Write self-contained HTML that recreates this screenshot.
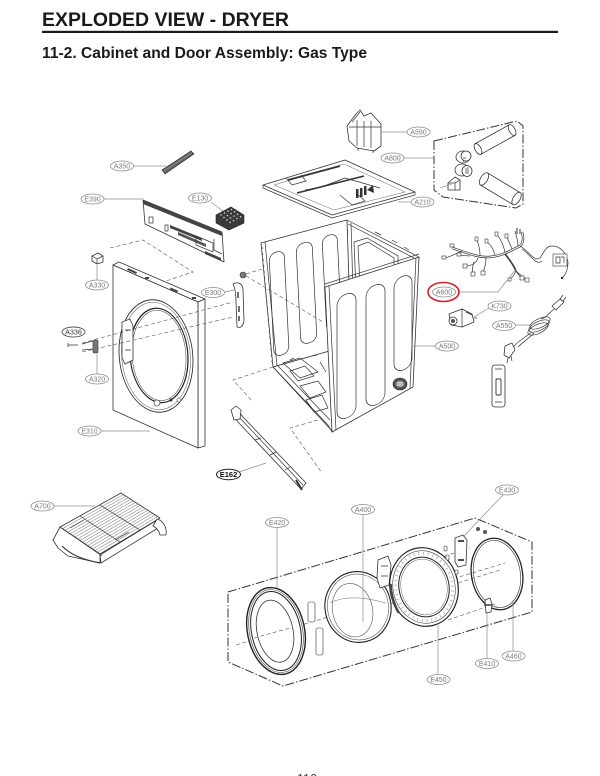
<!DOCTYPE html>
<html><head><meta charset="utf-8">
<style>
html,body{margin:0;padding:0;background:#fff;}
svg{display:block;}
.lb ellipse{fill:#fff;stroke:#8c8c8c;stroke-width:.8}
.lb text{font-family:"Liberation Sans",sans-serif;font-size:7px;fill:#7a7a7a;text-anchor:middle}
.ld{stroke:#8c8c8c;stroke-width:.7;fill:none}
.p{fill:#fff;stroke:#333;stroke-width:.8;stroke-linejoin:round}
.t{fill:none;stroke:#333;stroke-width:.7}
.g{fill:none;stroke:#666;stroke-width:.5}
.d{fill:none;stroke:#555;stroke-width:.6;stroke-dasharray:4 2.5}
.dd{fill:none;stroke:#333;stroke-width:1;stroke-dasharray:9 2 1.5 2}
.c{fill:#fff;stroke:#333;stroke-width:.6}
</style></head><body>
<svg width="600" height="776" viewBox="0 0 600 776" xmlns="http://www.w3.org/2000/svg">
<rect width="600" height="776" fill="#fff"/>

<!-- Header -->
<text x="42" y="26" font-family="Liberation Sans, sans-serif" font-weight="bold" font-size="19.5" fill="#1a1a1a" textLength="247" lengthAdjust="spacingAndGlyphs">EXPLODED VIEW - DRYER</text>
<rect x="42" y="30.8" width="516" height="2.2" fill="#1a1a1a"/>
<text x="42" y="58" font-family="Liberation Sans, sans-serif" font-weight="bold" font-size="15.5" fill="#1a1a1a" textLength="325" lengthAdjust="spacingAndGlyphs">11-2. Cabinet and Door Assembly: Gas Type</text>

<!-- ===== A350 bar ===== -->
<line class="ld" x1="134" y1="166" x2="166" y2="166"/>
<polygon points="162,170 191,151 194,154 165,174" fill="#666" stroke="#222" stroke-width=".6"/>
<path d="M164,171 L192,152.5" stroke="#ccc" stroke-width=".6" stroke-dasharray="1 1"/>

<!-- ===== E390 panel ===== -->
<line class="ld" x1="104" y1="199" x2="143" y2="199"/>
<polygon class="p" points="143,200 222,232 224,262 145,224"/>
<polygon points="143,200 222,232 222,236 143,204" fill="#444"/>
<polygon points="170,225 202,238 202,241 170,228" fill="#444"/>
<polygon points="178,232 206,244 206,247 178,235" fill="#555"/>
<polygon points="196,236 213,243 213,252 196,245" class="t"/>
<polygon points="205,251 221,258 221,261 205,254" fill="#444"/>
<rect x="149" y="217" width="4" height="6" class="t"/>
<rect x="165" y="225" width="3" height="6" class="t"/>
<path class="t" d="M214,239 L214,250 L222,254"/>

<!-- ===== E130 block ===== -->
<line class="ld" x1="211" y1="202" x2="224" y2="212"/>
<polygon points="216,215 231,207 244,215 244,223 229,230 216,223" fill="#3a3a3a" stroke="#222" stroke-width=".6"/>
<g fill="#d8d8d8">
<circle cx="221" cy="215" r=".8"/><circle cx="224.5" cy="213" r=".8"/><circle cx="228" cy="211" r=".8"/><circle cx="231.5" cy="209.5" r=".8"/>
<circle cx="224" cy="217.5" r=".8"/><circle cx="227.5" cy="215.5" r=".8"/><circle cx="231" cy="213.5" r=".8"/><circle cx="234.5" cy="211.8" r=".8"/>
<circle cx="227" cy="220" r=".8"/><circle cx="230.5" cy="218" r=".8"/><circle cx="234" cy="216" r=".8"/><circle cx="237.5" cy="214.3" r=".8"/>
<circle cx="230" cy="222.5" r=".8"/><circle cx="233.5" cy="220.5" r=".8"/><circle cx="237" cy="218.5" r=".8"/><circle cx="240.5" cy="216.8" r=".8"/>
</g>

<!-- ===== A590 ===== -->
<line class="ld" x1="382" y1="132" x2="407" y2="132"/>
<path class="p" d="M347,126 L356,114 L360,110 L364,116 L371,113 L381,124 L381,146 L374,151 L357,148 L349,141 Z"/>
<path class="t" d="M357,120 V146 M364,121 V147 M371,121 V148 M349,127 L381,127 M352,122 L360,112"/>
<path class="t" d="M358,148 v3 M373,150 v3"/>

<!-- ===== A800 vent ===== -->
<line class="ld" x1="404" y1="158" x2="434" y2="158"/>
<polygon class="dd" points="434,141 517,121 523,126 523,204 516,208 443,197 434,190"/>
<g transform="translate(478,149) rotate(-29)">
<rect x="0" y="-6" width="39" height="12" class="p"/>
<ellipse cx="39" cy="0" rx="3" ry="6" class="p"/>
<ellipse cx="0" cy="0" rx="3" ry="6" class="p"/>
</g>
<g transform="translate(484,179) rotate(31)">
<rect x="0" y="-7" width="38" height="14" class="p"/>
<ellipse cx="38" cy="0" rx="3.5" ry="7" class="p"/>
<ellipse cx="0" cy="0" rx="3.5" ry="7" class="p"/>
</g>
<ellipse cx="463" cy="157" rx="7" ry="6" class="p"/>
<ellipse cx="466" cy="156" rx="5" ry="5" class="p"/>
<path class="t" d="M463,158 h3 M463,161 h3"/>
<ellipse cx="462" cy="170" rx="7" ry="6" class="p"/>
<ellipse cx="467" cy="171" rx="5" ry="5.5" class="p"/>
<path class="t" d="M466,168 v6 M468,167 v7"/>
<path class="p" d="M448,183 L455,177 L460,180 L460,190 L448,190 Z"/>
<path class="t" d="M448,183 L455,183 L460,180 M455,183 V190"/>
<line x1="440" y1="188" x2="452" y2="184" class="g"/>

<!-- ===== A210 top plate ===== -->
<polygon class="p" points="263,185 345,160 415,192 332,215"/>
<polyline class="t" points="263,185 263,188 332,218 415,195 415,192"/>
<polygon class="g" points="274,185 344,164 405,192 334,210"/>
<path d="M288,180 L340,166" stroke="#333" stroke-width="1.8"/>
<path d="M297,193 L364,176" stroke="#333" stroke-width="1.6"/>
<path class="t" d="M286,178 L292,185 L306,181 L301,175 M340,195 L352,205 L365,201 L356,193"/>
<path class="t" d="M305,190 C320,188 330,184 345,178 L380,188"/>
<g fill="#333"><rect x="356" y="189" width="2.5" height="9"/><rect x="360" y="188" width="2.5" height="9"/><rect x="364" y="186" width="2.5" height="9"/><polygon points="367,190 373,185 374,193"/></g>
<line class="ld" x1="398" y1="202" x2="411" y2="202"/>

<!-- ===== Cabinet A500 ===== -->
<polyline class="t" points="347,220 419,257"/>
<polyline class="t" points="348,224 416,259"/>
<line class="t" x1="347" y1="220" x2="349" y2="292"/>
<line class="t" x1="351" y1="223" x2="353" y2="292"/>
<path class="t" d="M354,242 L367,238 L398,256 L398,280 L356,290 Z"/>
<path class="t" d="M358,246 L368,242 L394,258 L394,276 L360,285 Z"/>
<path class="t" d="M375,232 l6,3 M392,240 l5,3 M404,247 l5,3"/>
<polygon class="p" points="261,243 347,220 351,345 273,367"/>
<line class="t" x1="265" y1="242" x2="277" y2="366"/>
<path d="M262,247 L272,362" stroke="#555" stroke-width="1" stroke-dasharray="2 4"/>
<g class="t">
<rect x="0" y="0" width="15" height="103" rx="7" transform="matrix(1,-0.27,0.05,1,269,254)"/>
<rect x="0" y="0" width="16" height="100" rx="7" transform="matrix(1,-0.27,0.05,1,296,245)"/>
<rect x="0" y="0" width="15" height="95" rx="7" transform="matrix(1,-0.27,0.05,1,322,237)"/>
</g>
<polygon class="p" points="273,367 326,352 352,345 333,432"/>
<polyline class="t" points="273,367 328,425 332,432"/>
<polyline class="t" points="278,366 330,420"/>
<path class="t" d="M283,363 L300,358 L318,372 L300,378 Z M290,371 L305,366 L314,376 L298,381 Z"/>
<path class="t" d="M300,386 L318,381 L326,392 L310,398 Z M306,400 L322,395 L328,408 L314,412 Z"/>
<path class="t" d="M290,360 l4,-2 M312,356 l5,-1 M320,362 l6,10"/>
<circle cx="243" cy="275" r="3" fill="#777" stroke="#333" stroke-width=".6"/>
<line class="d" x1="246" y1="274" x2="262" y2="269"/>
<line class="d" x1="246" y1="276" x2="323" y2="322"/>
<polygon class="p" points="325,287 419,257 413,387 332,432"/>
<line class="t" x1="329" y1="286" x2="336" y2="430"/>
<line class="t" x1="325" y1="284" x2="419" y2="254"/>
<line class="t" x1="416" y1="258" x2="410" y2="388"/>
<g class="t">
<rect x="0" y="0" width="19" height="124" rx="9" transform="matrix(1,-0.32,0,1,337,297)"/>
<rect x="0" y="0" width="19" height="120" rx="9" transform="matrix(1,-0.32,0,1,366,288)"/>
<rect x="0" y="0" width="18" height="94" rx="9" transform="matrix(1,-0.32,0,1,394,279)"/>
</g>
<ellipse cx="400" cy="384" rx="7" ry="6" fill="#555" stroke="#222" stroke-width=".6"/>
<ellipse cx="400" cy="384" rx="4" ry="3" fill="#bbb"/>
<line class="ld" x1="413" y1="346" x2="435" y2="346"/>

<polyline class="d" points="273,367 233,380 253,402"/>
<polyline class="d" points="318,420 290,428 322,473"/>

<!-- ===== E162 bracket ===== -->
<polygon class="p" points="233,414 238,410 243,417 306,483 301,489 238,422"/>
<line class="t" x1="238" y1="416" x2="303" y2="485"/>
<path class="p" d="M231,410 L236,406 L241,410 L240,419 L234,420 Z"/>
<path class="t" d="M255,440 l6,-2 M270,455 l6,-3 M285,470 l5,-3"/>
<path d="M296,480 L302,490" stroke="#333" stroke-width="2"/>
<line class="ld" x1="239" y1="472" x2="266" y2="463"/>

<polyline class="d" points="110,248 143,240 193,272 163,282"/>

<!-- ===== Front panel E310 ===== -->
<polygon class="p" points="113,265 119,262 205,299 198,302"/>
<polygon class="p" points="198,302 205,299 205,446 198,448"/>
<polygon class="p" points="113,265 198,302 198,448 113,410"/>
<g fill="#444"><rect x="127" y="270" width="10" height="2" transform="rotate(24 132 271)"/><rect x="145" y="277" width="4" height="2"/><rect x="170" y="289" width="8" height="2" transform="rotate(24 174 290)"/><rect x="192" y="297" width="4" height="2"/></g>
<g transform="translate(156,356) matrix(1,0.14,0,1,0,0)">
<ellipse rx="37" ry="56" fill="#fff" stroke="#333" stroke-width=".9"/>
<ellipse rx="34.5" ry="53.5" fill="none" stroke="#555" stroke-width=".5"/>
<ellipse cx="3" cy="-1" rx="29" ry="47" fill="none" stroke="#222" stroke-width="1.2"/>
<ellipse cx="3" cy="-1" rx="27" ry="45" fill="none" stroke="#555" stroke-width=".6"/>
</g>
<path class="p" d="M122,322 L130,319 L133,326 L133,360 L125,364 L122,358 Z"/>
<path class="t" d="M125,330 h6 M125,350 h6"/>
<circle cx="157" cy="403" r="3" class="c"/><circle cx="171" cy="400" r="1.5" fill="#333"/><circle cx="179" cy="400" r="2" class="c"/>
<line class="ld" x1="101" y1="431" x2="150" y2="431"/>

<line class="d" x1="82" y1="343" x2="233" y2="302"/>
<line class="d" x1="82" y1="352" x2="233" y2="317"/>
<path class="t" d="M68,345 L78,345 M68,343 v4"/>
<rect x="93" y="340" width="5" height="13" rx="1.5" fill="#777" stroke="#333" stroke-width=".6"/>
<path class="t" d="M82,344 L93,341 M82,350 L93,349"/>
<line class="ld" x1="97" y1="354" x2="97" y2="374"/>

<polygon class="p" points="92,256 98,253 103,256 103,262 97,264 92,261"/>
<path class="t" d="M92,256 L97,259 L103,256 M97,259 V264"/>
<line class="ld" x1="97" y1="265" x2="97" y2="280"/>

<path class="p" d="M233,284 C238,281 243,284 243,290 L244,321 C243,327 240,328 237,327 L236,302 C236,293 235,288 233,284 Z"/>
<path d="M238,292 v6 M239,306 v6 M239,316 v5" stroke="#333" stroke-width="1.4"/>
<line class="ld" x1="225" y1="292" x2="234" y2="290"/>

<!-- ===== A600 harness ===== -->
<path d="M452,248 C465,252 478,258 490,257 C502,256 512,250 520,246 C523,244 524,238 522,232" fill="none" stroke="#333" stroke-width="2.4"/>
<path d="M452,248 C465,252 478,258 490,257 C502,256 512,250 520,246 C523,244 524,238 522,232" fill="none" stroke="#fff" stroke-width="1"/>
<path d="M505,254 C510,260 514,266 516,271" fill="none" stroke="#333" stroke-width="1.6"/>
<g class="t">
<path d="M520,246 C530,252 534,262 540,258 C544,252 546,246 552,246 C560,246 566,252 568,262 C568,270 565,276 562,278"/>
<path d="M522,249 C532,256 536,266 542,261"/>
<path d="M478,258 C476,264 470,266 466,266"/>
<path d="M486,257 C486,266 484,270 483,272"/>
<path d="M470,256 C466,256 462,255 459,255"/>
<path d="M462,251 C455,254 450,257 445,258"/>
<path d="M480,255 C480,248 478,243 477,240"/>
<path d="M495,255 C493,248 490,244 487,242"/>
<path d="M505,252 C503,244 500,238 497,235"/>
<path d="M512,249 C510,244 508,240 507,237"/>
<path d="M518,246 C518,240 516,235 515,231"/>
<path d="M516,271 C518,274 520,277 522,278"/>
<path d="M516,271 C522,276 525,279 527,280"/>
<path d="M516,271 C514,275 512,278 510,279"/>
<path d="M474,262 C472,268 472,272 473,274"/>
</g>
<g class="c">
<rect x="442" y="256" width="4" height="3"/><rect x="450" y="244" width="4" height="3"/><rect x="457" y="253" width="4" height="3"/>
<rect x="463" y="264" width="4" height="4"/><rect x="471" y="272" width="4" height="4"/><rect x="481" y="271" width="4" height="4"/>
<rect x="475" y="237" width="3" height="4"/><rect x="485" y="239" width="3" height="4"/><rect x="495" y="232" width="3" height="4"/>
<rect x="505" y="234" width="3" height="4"/><rect x="520" y="276" width="4" height="4"/><rect x="525" y="278" width="4" height="4"/><rect x="508" y="278" width="3" height="3"/>
</g>
<path d="M517,228 v6 M520,229 v5" stroke="#333" stroke-width="1"/>
<rect x="553" y="254" width="14" height="12" class="c"/>
<path class="t" d="M556,257 h4 v6 h-4 Z M561,257 h3 v6"/>
<circle cx="562" cy="278" r="1.2" fill="#333"/>
<polyline class="ld" points="459,292 498,292 516,269"/>
<ellipse cx="443.5" cy="292" rx="15.5" ry="9.5" fill="none" stroke="#d61f26" stroke-width="1.6"/>

<!-- K730 -->
<polygon class="p" points="449,314 462,309 472,314 474,322 462,327 451,325"/>
<circle cx="453" cy="321" r="4" class="p"/>
<circle cx="453" cy="321" r="2" fill="#555"/>
<path class="t" d="M462,309 V327 M466,312 l6,3 M474,318 l3,0"/>
<line class="ld" x1="474" y1="317" x2="489" y2="308"/>

<!-- A550 cord -->
<polygon class="p" points="552,306 560,299 564,302 556,310"/>
<path class="t" d="M560,299 l3,-4 M563,301 l3,-4"/>
<path class="t" d="M554,309 C548,314 546,318 541,319"/>
<g class="t">
<ellipse cx="540" cy="323" rx="11" ry="4.5" transform="rotate(-25 540 323)"/>
<ellipse cx="539" cy="326" rx="11" ry="4.5" transform="rotate(-25 539 326)"/>
<ellipse cx="538" cy="329" rx="11" ry="4.5" transform="rotate(-25 538 329)"/>
</g>
<path class="t" d="M532,332 C525,337 519,341 515,345 C512,350 510,354 508,357"/>
<path class="t" d="M534,333 C528,339 522,343 518,347"/>
<polygon class="p" points="505,346 512,343 515,350 509,358 504,355"/>
<path class="t" d="M508,358 l-1,5 M511,356 l1,5"/>
<line class="ld" x1="516" y1="325" x2="530" y2="325"/>

<!-- strike plate -->
<rect x="492" y="365" width="13" height="42" rx="3" class="p"/>
<rect x="496" y="379" width="5" height="16" rx="1" fill="none" stroke="#333" stroke-width=".9"/>
<path class="t" d="M495,369 h7 M495,402 h7"/>

<!-- ===== A700 rack ===== -->
<line class="ld" x1="54" y1="506" x2="95" y2="506"/>
<polygon class="p" points="100,555 157,520 158,528 101,563"/>
<path class="p" d="M60,527 L53,540 L58,548 L68,556 L100,563 L100,554 Z"/>
<path d="M62,546 C72,556 85,560 100,563" fill="none" stroke="#333" stroke-width="1.2"/>
<polygon class="p" points="60,527 121,493 160,518 100,554"/>
<path class="g" d="M62.5,528.7L123.4,494.6 M65,530.4L125.9,496.1 M67.5,532.1L128.3,497.7 M70,533.8L130.8,499.3 M72.5,535.4L133.2,500.8 M75,537.1L135.6,502.4 M77.5,538.8L138.1,503.9 M80,540.5L140.5,505.5 M82.5,542.2L142.9,507.1 M85,543.9L145.4,508.6 M87.5,545.6L147.8,510.2 M90,547.3L150.3,511.8 M92.5,548.9L152.7,513.3 M95,550.6L155.1,514.9 M97.5,552.3L157.6,516.4"/>
<path class="t" d="M80,516 L120,542 M100,505 L140,530 M63,529 L102,556"/>
<path class="p" d="M157,519 C164,521 167,528 166,535 L160,535 C159,531 157,528 153,526 Z"/>
<path class="t" d="M70,528 l14,-8 M115,540 l14,-8"/>

<!-- ===== Door assembly box ===== -->
<polygon class="dd" points="228,592 475,518 532,542 532,612 283,686 228,662"/>
<line class="d" x1="236" y1="645" x2="505" y2="563"/>
<line class="d" x1="376" y1="578" x2="470" y2="548"/>
<line class="d" x1="390" y1="604" x2="500" y2="570"/>
<line class="d" x1="448" y1="620" x2="495" y2="604"/>

<!-- E420 -->
<g transform="translate(276,631) rotate(-12)">
<ellipse rx="28.5" ry="44" fill="#fff" stroke="#222" stroke-width="1.4"/>
<ellipse rx="26.5" ry="42" fill="none" stroke="#555" stroke-width=".7"/>
<ellipse rx="24.5" ry="40" fill="none" stroke="#222" stroke-width="1"/>
<ellipse cx="-1" rx="18" ry="31.5" fill="none" stroke="#333" stroke-width=".8"/>
</g>
<line class="d" x1="254" y1="638" x2="290" y2="628"/>
<rect x="308" y="602" width="7" height="20" rx="2" class="c"/>
<rect x="316" y="628" width="7" height="27" rx="2" class="c"/>

<!-- A400 glass -->
<g transform="translate(358,607) rotate(-12)">
<ellipse rx="33" ry="35.5" fill="#fff" stroke="#222" stroke-width="1.1"/>
<ellipse rx="30.5" ry="33" fill="none" stroke="#555" stroke-width=".6"/>
<ellipse cx="-6" cy="2" rx="20" ry="27" fill="none" stroke="#555" stroke-width=".6"/>
<path class="g" d="M-26,-10 C-10,-14 10,-8 28,2"/>
</g>
<path class="p" d="M378,560 L388,556 L391,565 L389,585 L380,588 L377,578 Z"/>
<path class="t" d="M381,566 h7 M381,576 h7"/>

<!-- E450 -->
<g transform="translate(424,587) rotate(-12)">
<ellipse rx="34" ry="39.5" fill="#fff" stroke="#222" stroke-width="1.2"/>
<ellipse rx="28.5" ry="34" fill="none" stroke="#aaa" stroke-width="3" stroke-dasharray="0.8 4"/>
<ellipse rx="31" ry="36.5" fill="none" stroke="#444" stroke-width=".6"/>
<ellipse rx="25" ry="30" fill="none" stroke="#222" stroke-width="1"/>
<ellipse rx="23" ry="28" fill="none" stroke="#666" stroke-width=".5"/>
<path d="M-32,-10 C-34,0 -33,12 -30,20" fill="none" stroke="#444" stroke-width="2.5"/>
</g>

<!-- E430 hinge -->
<path class="p" d="M455,538 L463,535 L467,540 L466,565 L458,567 L455,562 Z"/>
<path d="M458,541 h6 M458,560 h6" stroke="#333" stroke-width="1.8"/>
<circle cx="478" cy="529" r="2" fill="#555"/><circle cx="485" cy="532" r="2" fill="#555"/>
<rect x="444" y="546" width="3" height="5" rx="1" class="c"/>
<rect x="446" y="555" width="3" height="5" rx="1" class="c"/>
<rect x="455" y="570" width="3" height="4" rx="1" class="c"/>
<line class="ld" x1="503" y1="495" x2="463" y2="537"/>

<!-- A460 -->
<g transform="translate(497,574) rotate(-10)">
<ellipse rx="25.5" ry="36" fill="none" stroke="#222" stroke-width="1.3"/>
<ellipse rx="23.3" ry="33.8" fill="none" stroke="#444" stroke-width=".7"/>
</g>

<!-- E410 -->
<path class="p" d="M485,600 L490,598 L492,604 L491,612 L486,613 Z"/>
<path d="M484,605 h8" stroke="#333" stroke-width="1.4"/>

<!-- door leaders -->
<line class="ld" x1="277" y1="527" x2="277" y2="588"/>
<line class="ld" x1="363" y1="514" x2="363" y2="622"/>
<line class="ld" x1="438" y1="674" x2="438" y2="625"/>
<line class="ld" x1="487" y1="658" x2="487" y2="612"/>
<line class="ld" x1="513" y1="651" x2="513" y2="600"/>

<!-- ===== Labels ===== -->
<g class="lb">
<ellipse cx="122" cy="166" rx="11.5" ry="5"/><text x="122" y="168.5">A350</text>
<ellipse cx="92.5" cy="199" rx="11.5" ry="5"/><text x="92.5" y="201.5">E390</text>
<ellipse cx="200" cy="198" rx="11.5" ry="5"/><text x="200" y="200.5">E130</text>
<ellipse cx="418.5" cy="132" rx="11.5" ry="5"/><text x="418.5" y="134.5">A590</text>
<ellipse cx="392.5" cy="158" rx="11.5" ry="5"/><text x="392.5" y="160.5">A800</text>
<ellipse cx="422.5" cy="202" rx="11.5" ry="5"/><text x="422.5" y="204.5">A210</text>
<ellipse cx="97" cy="285" rx="11.5" ry="5"/><text x="97" y="287.5">A330</text>
<ellipse cx="213" cy="292.5" rx="11.5" ry="5"/><text x="213" y="295">E300</text>
<ellipse cx="97" cy="379" rx="11.5" ry="5"/><text x="97" y="381.5">A320</text>
<ellipse cx="89.5" cy="431" rx="11.5" ry="5"/><text x="89.5" y="433.5">E310</text>
<ellipse cx="444" cy="292" rx="11.5" ry="5"/><text x="444" y="294.5">A600</text>
<ellipse cx="499.5" cy="306" rx="11.5" ry="5"/><text x="499.5" y="308.5">K730</text>
<ellipse cx="504" cy="325.5" rx="11.5" ry="5"/><text x="504" y="328">A550</text>
<ellipse cx="447" cy="346" rx="11.5" ry="5"/><text x="447" y="348.5">A500</text>
<ellipse cx="42.5" cy="506" rx="11.5" ry="5"/><text x="42.5" y="508.5">A700</text>
<ellipse cx="277" cy="522.5" rx="11.5" ry="5"/><text x="277" y="525">E420</text>
<ellipse cx="363" cy="509.5" rx="11.5" ry="5"/><text x="363" y="512">A400</text>
<ellipse cx="507" cy="490" rx="11.5" ry="5"/><text x="507" y="492.5">E430</text>
<ellipse cx="487" cy="663.5" rx="11.5" ry="5"/><text x="487" y="666">E410</text>
<ellipse cx="513.5" cy="656" rx="11.5" ry="5"/><text x="513.5" y="658.5">A460</text>
<ellipse cx="438.5" cy="679.5" rx="11.5" ry="5"/><text x="438.5" y="682">E450</text>
</g>
<g>
<ellipse cx="73.5" cy="332" rx="11.5" ry="5" fill="#fff" stroke="#555" stroke-width=".9"/>
<text x="73.5" y="334.5" font-family="Liberation Sans, sans-serif" font-size="7.2" fill="#333" text-anchor="middle">A336</text>
<ellipse cx="228.5" cy="474.5" rx="12" ry="5.2" fill="#fff" stroke="#222" stroke-width="1"/>
<text x="228.5" y="477.2" font-family="Liberation Sans, sans-serif" font-size="7.5" font-weight="bold" fill="#111" text-anchor="middle">E162</text>
</g>

<text x="307" y="783" font-family="Liberation Sans, sans-serif" font-size="12.5" fill="#333" text-anchor="middle">116</text>
</svg>
</body></html>
